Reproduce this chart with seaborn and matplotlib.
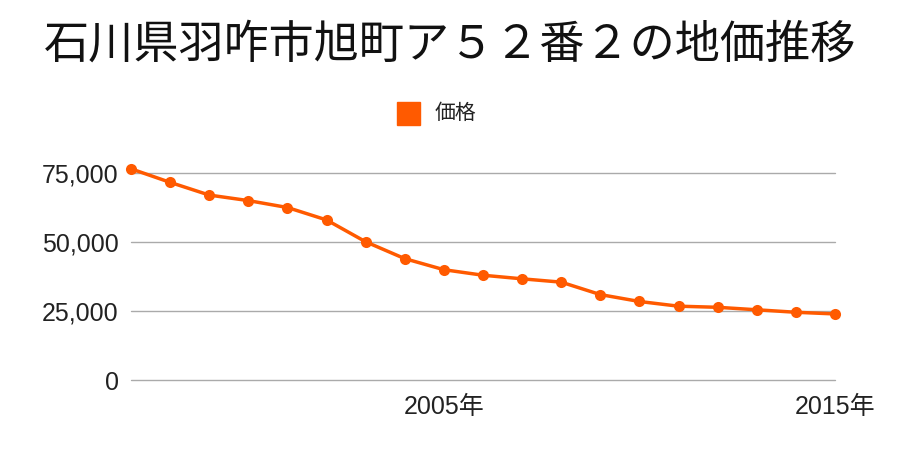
import matplotlib
matplotlib.use("Agg")
import matplotlib.pyplot as plt
import seaborn as sns
import pandas as pd
from matplotlib.ticker import FuncFormatter

years = list(range(1997, 2016))
prices = [76400, 71500, 66900, 64900, 62400, 57900, 50000, 43900, 39900, 37900,
          36600, 35400, 30900, 28400, 26700, 26300, 25400, 24500, 23900]
title = "石川県羽咋市旭町ア５２番２の地価推移"
series_name = "価格"
xtick_years = [2005, 2015]
xtick_labels = ["2005年", "2015年"]
ytick_values = [0, 25000, 50000, 75000]

sns.set_theme(style="white")
plt.rcParams['font.family'] = ['Noto Sans CJK JP', 'DejaVu Sans']
tick_family = ['Liberation Sans', 'Noto Sans CJK JP']

df = pd.DataFrame({"year": years, "price": prices})
color = "#ff5a00"

fig = plt.figure(figsize=(9, 4.5), dpi=100)
ax = fig.add_axes([131/900, 1-380/450, (835-131)/900, (380-163)/450])
sns.lineplot(data=df, x="year", y="price", ax=ax, color=color, linewidth=2.5,
             marker="o", markersize=8, markeredgewidth=0, clip_on=False, zorder=5)
ax.set_xlim(1997, 2015)
ax.set_ylim(0, 78500)
ax.set_yticks(ytick_values)
ax.yaxis.set_major_formatter(FuncFormatter(lambda v, p: f"{int(v):,}"))
ax.set_xticks(xtick_years)
ax.set_xticklabels(xtick_labels)
ax.grid(axis="y", color="#aaaaaa", linewidth=1)
for gl in ax.get_ygridlines():
    gl.set_clip_on(False)
ax.set_axisbelow(True)
for s in ax.spines.values():
    s.set_visible(False)
ax.tick_params(axis="both", length=0, labelsize=18, colors="#222222")
ax.tick_params(axis="x", pad=10.5)
ax.tick_params(axis="y", pad=9)
for lab in ax.get_xticklabels() + ax.get_yticklabels():
    lab.set_family(tick_family)
ax.set_xlabel("")
ax.set_ylabel("")

fig.text(0.5, 1-45/450, title, ha="center", va="center", fontsize=32.5, color="#111111")
fig.patches.append(plt.Rectangle((397/900, 1-125/450), 23/900, 23/450,
                                 transform=fig.transFigure, color=color))
fig.text(435/900, 1-113/450, series_name, ha="left", va="center", fontsize=15, color="#222222")

fig.savefig("out.png", dpi=100, facecolor="white")
